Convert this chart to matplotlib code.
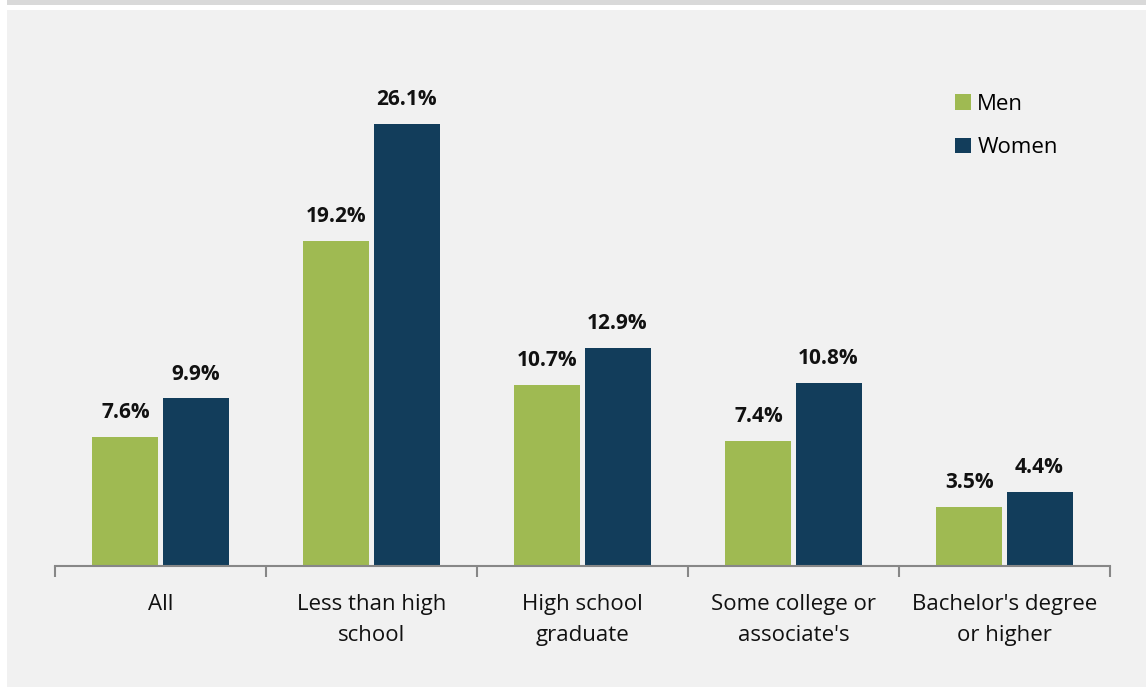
import matplotlib
matplotlib.use("Agg")
import matplotlib.pyplot as plt
from matplotlib.patches import Rectangle
import numpy as np

categories = ["All", "Less than high\nschool", "High school\ngraduate",
              "Some college or\nassociate's", "Bachelor's degree\nor higher"]
men = [7.6, 19.2, 10.7, 7.4, 3.5]
women = [9.9, 26.1, 12.9, 10.8, 4.4]
series_names = ["Men", "Women"]
colors = ["#9fba52", "#123d5b"]

W, H = 1146, 687
fig = plt.figure(figsize=(W / 100, H / 100), dpi=100)
fig.patch.set_facecolor("white")
# background panels
fig.patches.append(Rectangle((7 / W, 0), 1 - 7 / W, (H - 10) / H, transform=fig.transFigure,
                             facecolor="#f1f1f1", edgecolor="none", zorder=-10))
fig.patches.append(Rectangle((7 / W, (H - 5) / H), 1 - 7 / W, 5 / H, transform=fig.transFigure,
                             facecolor="#d9d9d9", edgecolor="none", zorder=-10))

plt.rcParams['font.family'] = ['Open Sans', 'DejaVu Sans']

ax = fig.add_axes([55 / W, (H - 566) / H, (1110 - 55) / W, (566 - 30) / H])
ax.set_facecolor("none")
x = np.arange(len(categories))
bw = 0.313
off = 0.166
b1 = ax.bar(x - off, men, bw, color=colors[0], label=series_names[0])
b2 = ax.bar(x + off, women, bw, color=colors[1], label=series_names[1])
for bars, vals in ((b1, men), (b2, women)):
    for r, v in zip(bars, vals):
        ax.annotate(f"{v:.1f}%", (r.get_x() + r.get_width() / 2, v), xytext=(0, 10),
                    textcoords="offset points", ha="center", va="bottom",
                    fontsize=15, fontweight="bold", color="#111111")

ax.set_xlim(-0.5, len(categories) - 0.5)
ax.set_ylim(0, (566 - 30) / 16.93)
ax.set_yticks([])
for s in ["top", "right", "left"]:
    ax.spines[s].set_visible(False)
ax.spines["bottom"].set_color("#878787")
ax.spines["bottom"].set_linewidth(1.5)
ax.set_xticks(x)
ax.set_xticklabels(categories, fontsize=16, color="#111111", linespacing=1.65)
ax.tick_params(axis="x", which="major", length=0, pad=20)
ax.set_xticks(np.arange(-0.5, len(categories)), minor=True)
ax.tick_params(axis="x", which="minor", length=8, width=1.5, color="#878787")

leg = ax.legend(loc="upper left", bbox_to_anchor=(935 / W, (H - 74) / H),
                bbox_transform=fig.transFigure, frameon=False, fontsize=16,
                handlelength=0.7, handleheight=0.7, handletextpad=0.3, labelspacing=1.0)

fig.savefig("out.png", dpi=100, facecolor=fig.get_facecolor())
